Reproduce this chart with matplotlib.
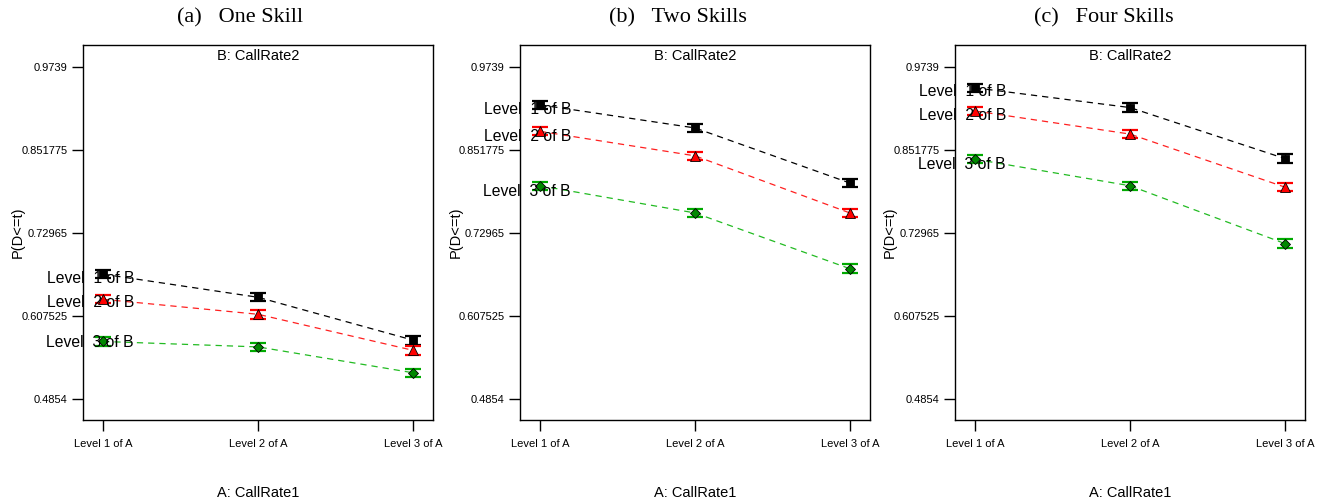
import matplotlib
matplotlib.use("Agg")
import matplotlib.pyplot as plt
import numpy as np

# factor A levels (x axis) and factor B levels (series)
a_levels = ["Level 1 of A", "Level 2 of A", "Level 3 of A"]
b_levels = ["Level  1 of B", "Level  2 of B", "Level  3 of B"]
panel_titles = ["(a)   One Skill", "(b)   Two Skills", "(c)   Four Skills"]

ytick_vals = [0.4854, 0.607525, 0.72965, 0.851775, 0.9739]
ytick_labels = ["0.4854", "0.607525", "0.72965", "0.851775", "0.9739"]

# P(D<=t) means, one list per B level, per panel
one_l1 = [0.669, 0.635, 0.572]
one_l2 = [0.632, 0.610, 0.557]
one_l3 = [0.570, 0.562, 0.524]
two_l1 = [0.918, 0.884, 0.803]
two_l2 = [0.879, 0.843, 0.759]
two_l3 = [0.799, 0.759, 0.677]
four_l1 = [0.943, 0.914, 0.839]
four_l2 = [0.909, 0.875, 0.797]
four_l3 = [0.838, 0.799, 0.714]

# half-widths of the error bars
one_err = [[0.006, 0.006, 0.0065], [0.006, 0.0065, 0.007], [0.006, 0.006, 0.006]]
two_err = [[0.006, 0.006, 0.0065], [0.006, 0.006, 0.0065], [0.006, 0.006, 0.0065]]
four_err = [[0.006, 0.006, 0.0065], [0.006, 0.0065, 0.006], [0.006, 0.006, 0.006]]

panels = [([one_l1, one_l2, one_l3], one_err),
          ([two_l1, two_l2, two_l3], two_err),
          ([four_l1, four_l2, four_l3], four_err)]

styles = [dict(line="black", cap="black", marker="s", face="black", ms=5.5),
          dict(line="#ff2020", cap="#ff0000", marker="^", face="#ff0000", ms=7),
          dict(line="#22bb22", cap="#00aa00", marker="D", face="#008800", ms=5)]

plt.rcParams["font.family"] = ["Liberation Sans", "DejaVu Sans"]

fig = plt.figure(figsize=(13.28, 5), dpi=100)
lefts = [83, 520, 955]
title_x = [240, 678, 1104]
x = np.arange(1, 4)

for p, ((series, errs), left) in enumerate(zip(panels, lefts)):
    ax = fig.add_axes([left / 1328, 80 / 500, 350 / 1328, 375 / 500])
    for s, (vals, err, st) in enumerate(zip(series, errs, styles)):
        ax.plot(x, vals, ls=(0, (5, 4)), color=st["line"], lw=0.9, zorder=2)
        ax.errorbar(x, vals, yerr=err, fmt="none", ecolor=st["cap"], elinewidth=1,
                    capsize=5.5, capthick=1.6, zorder=3)
        ax.plot(x, vals, ls="none", marker=st["marker"], ms=st["ms"],
                mfc=st["face"], mec="black", mew=0.6, zorder=4)
        ylab = vals[0] + 0.2 * (vals[1] - vals[0])
        ax.text(1.2, ylab, b_levels[s], ha="right", va="center", fontsize=11.3,
                clip_on=False, zorder=5)
    ax.set_xlim(0.87, 3.13)
    ax.set_ylim(0.4545, 1.006)
    ax.set_yticks(ytick_vals)
    ax.set_yticklabels(ytick_labels)
    ax.set_xticks(x)
    ax.set_xticklabels(a_levels)
    ax.tick_params(axis="both", length=8, width=1, labelsize=8, pad=3)
    ax.tick_params(axis="x", pad=6)
    for sp in ax.spines.values():
        sp.set_linewidth(1)
    ax.text(0.5, 0.97, "B: CallRate2", transform=ax.transAxes, ha="center",
            va="center", fontsize=10.5)
    ax.set_ylabel("P(D<=t)", fontsize=10.5)
    ax.yaxis.set_label_coords(-0.165, 0.5)
    ax.set_xlabel("A: CallRate1", fontsize=10.5)
    ax.xaxis.set_label_coords(0.5, -0.175)
    fig.text(title_x[p] / 1328, 1 - 18 / 500, panel_titles[p], ha="center",
             va="center", fontsize=16, family=["Liberation Serif", "DejaVu Serif"])

fig.savefig("out.png", dpi=100)
